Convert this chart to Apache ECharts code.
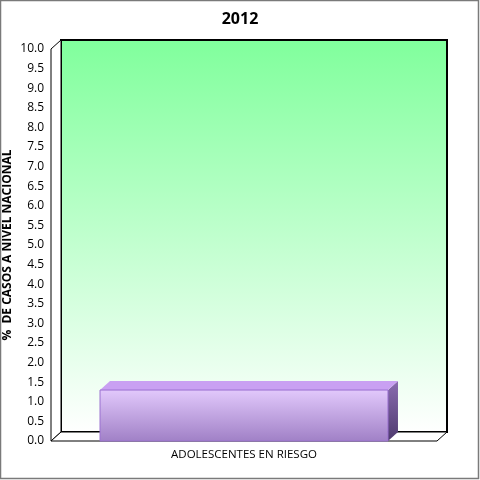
<!DOCTYPE html>
<html>
<head>
<meta charset="utf-8">
<script src="https://cdn.jsdelivr.net/npm/echarts@6/dist/echarts.min.js"></script>
<style>
html,body{margin:0;padding:0;background:#fff;}
#chart{width:480px;height:480px;}
</style>
</head>
<body>
<div id="chart"></div>
<script>
const title = '2012';
const categories = ['ADOLESCENTES EN RIESGO'];
const values = [1.3];
const yAxisName = '%  DE CASOS A NIVEL NACIONAL';

const DX = 10, DY = -9;
const FONT = '"Open Sans", "Noto Sans", sans-serif';

const chart = echarts.init(document.getElementById('chart'));

function frameItem(params, api) {
  const cs = params.coordSys;
  const x = cs.x, y = cs.y, w = cs.width, h = cs.height;
  return {
    type: 'group',
    children: [
      {
        type: 'rect',
        shape: { x: x + DX, y: y + DY, width: w, height: h },
        style: {
          fill: new echarts.graphic.LinearGradient(0, 0, 0, 1, [
            { offset: 0, color: '#80ff9c' },
            { offset: 1, color: '#ffffff' }
          ]),
          stroke: '#000', lineWidth: 2
        }
      },
      {
        type: 'polygon',
        shape: { points: [[x, y], [x + DX, y + DY], [x + DX, y + h + DY], [x, y + h]] },
        style: { fill: '#fff', stroke: '#000', lineWidth: 1 }
      },
      {
        type: 'polygon',
        shape: { points: [[x, y + h], [x + DX, y + h + DY], [x + w + DX, y + h + DY], [x + w, y + h]] },
        style: { fill: '#fff', stroke: '#000', lineWidth: 1 }
      }
    ]
  };
}

function barItem(params, api) {
  const top = api.coord([api.value(0), api.value(1)]);
  const base = api.coord([api.value(0), 0]);
  const band = api.size([1, 0])[0];
  const bw = band * 0.746;
  const x0 = top[0] - bw / 2, x1 = top[0] + bw / 2;
  const yT = top[1], yB = base[1];
  return {
    type: 'group',
    children: [
      {
        type: 'polygon',
        shape: { points: [[x1, yT], [x1 + DX, yT + DY], [x1 + DX, yB + DY], [x1, yB]] },
        style: {
          fill: new echarts.graphic.LinearGradient(0, 0, 0, 1, [
            { offset: 0, color: '#8a6cb0' },
            { offset: 1, color: '#4e3a6e' }
          ])
        }
      },
      {
        type: 'polygon',
        shape: { points: [[x0, yT], [x0 + DX, yT + DY], [x1 + DX, yT + DY], [x1, yT]] },
        style: { fill: '#c9a0f2' }
      },
      {
        type: 'rect',
        shape: { x: x0, y: yT, width: bw, height: yB - yT },
        style: {
          fill: new echarts.graphic.LinearGradient(0, 0, 0, 1, [
            { offset: 0, color: '#e2c9fc' },
            { offset: 1, color: '#a080c6' }
          ]),
          stroke: '#9a70d0', lineWidth: 1
        }
      }
    ]
  };
}

chart.setOption({
  animation: false,
  backgroundColor: '#fff',
  title: {
    text: title, left: 'center', top: 6,
    textStyle: { fontFamily: FONT, fontSize: 16, fontWeight: 'bold', color: '#000' }
  },
  graphic: [{
    type: 'rect', shape: { x: 0.5, y: 0.5, width: 478, height: 478 },
    style: { fill: 'none', stroke: '#7a7a7a', lineWidth: 1.5 }, silent: true, z: 100
  }],
  grid: { left: 51, right: 43, top: 49, bottom: 39, containLabel: false, outerBoundsMode: 'none' },
  xAxis: {
    type: 'category', data: categories,
    axisLine: { show: false }, axisTick: { show: false }, splitLine: { show: false },
    axisLabel: { margin: 8, fontFamily: FONT, fontSize: 11.5, color: '#000' }
  },
  yAxis: {
    type: 'value', min: 0, max: 10, interval: 0.5,
    name: yAxisName, nameLocation: 'middle', nameRotate: 90, nameGap: 37, nameMoveOverlap: false,
    nameTextStyle: { fontFamily: FONT, fontSize: 12, fontWeight: 'bold', color: '#000' },
    axisLine: { show: false }, axisTick: { show: false }, splitLine: { show: false },
    axisLabel: { margin: 7, fontFamily: FONT, fontSize: 12, color: '#000', formatter: v => v.toFixed(1) }
  },
  series: [
    { type: 'custom', renderItem: frameItem, data: [[0, 0]], silent: true, z: 1 },
    { type: 'custom', renderItem: barItem, data: values.map((v, i) => [i, v]), z: 2 }
  ]
});
</script>
</body>
</html>
